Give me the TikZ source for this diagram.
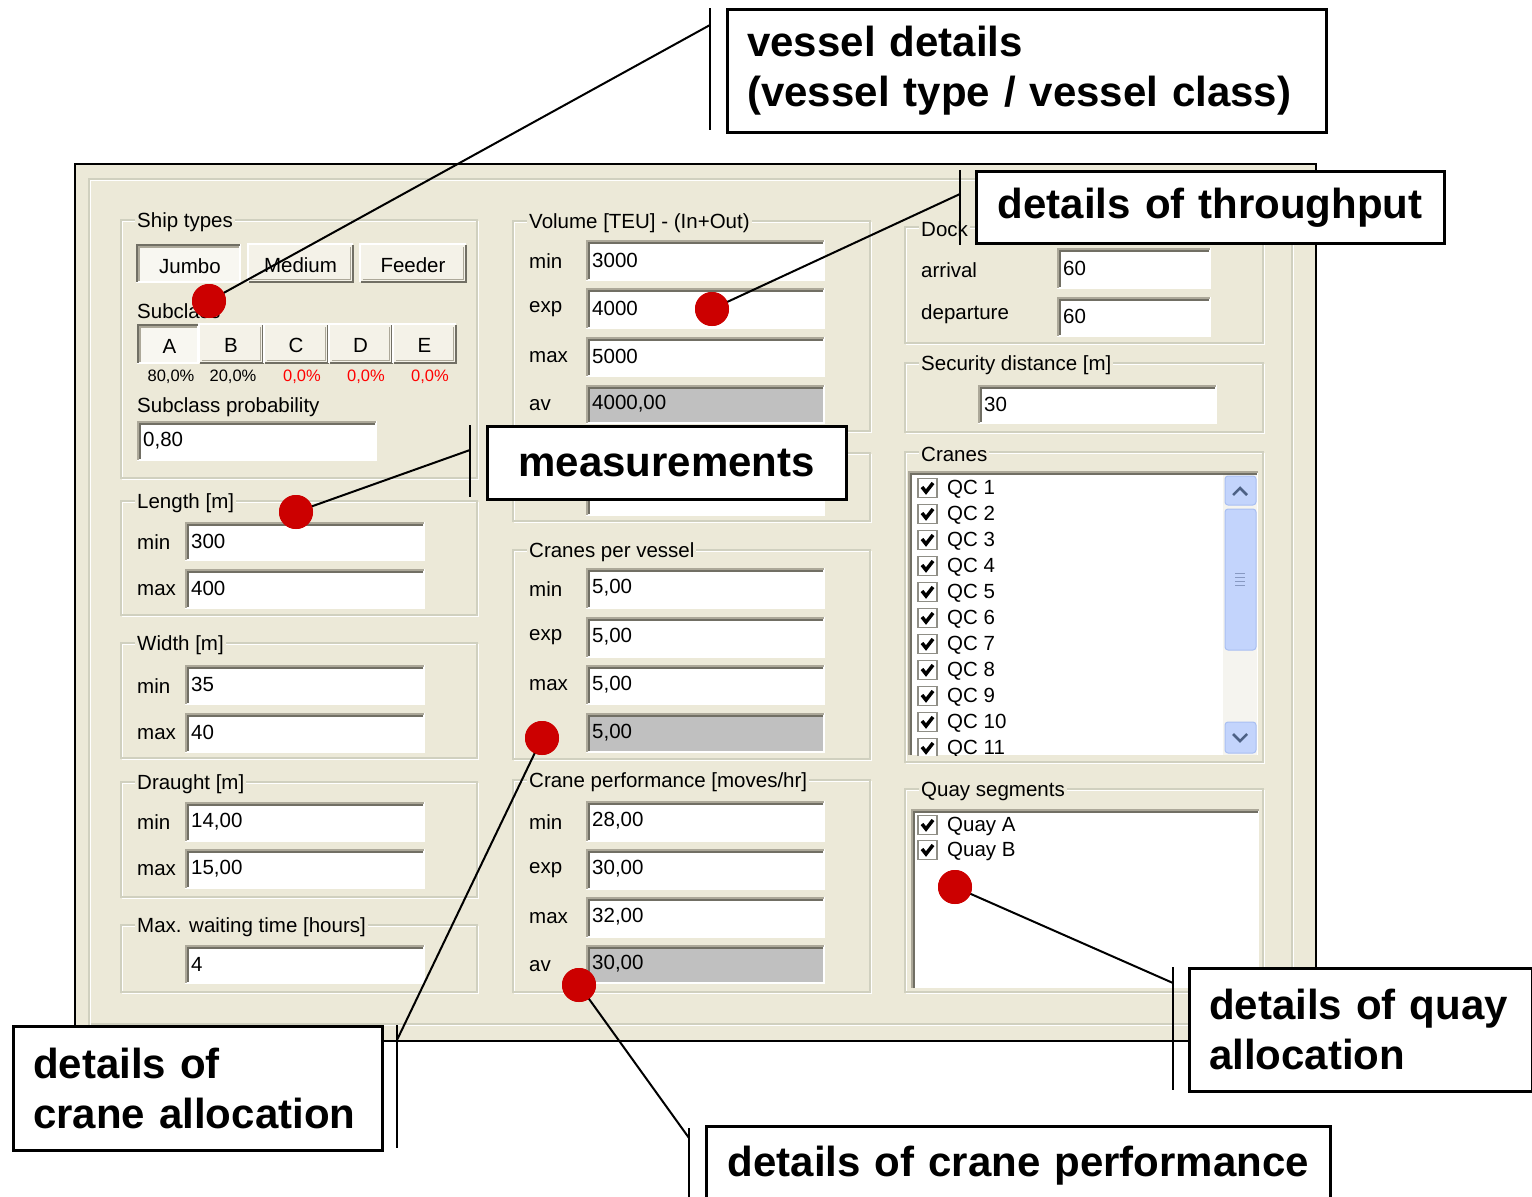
\documentclass[tikz,border=0pt]{standalone}
\usepackage{fontspec}
\setmainfont{Liberation Sans}
\definecolor{winbg}{HTML}{ECE9D8}
\definecolor{etchgray}{HTML}{D0D0BF}
\definecolor{flddark}{HTML}{716F64}
\definecolor{fldmid}{HTML}{ACA899}
\definecolor{fldgray}{HTML}{C0C0C0}
\definecolor{dotred}{HTML}{CC0000}
\definecolor{pctred}{HTML}{FF0000}
\definecolor{sbtrack}{HTML}{F5F4EF}
\definecolor{sbbtn}{HTML}{C3D4FC}
\definecolor{sbedge}{HTML}{A9BFF2}
\definecolor{sbarrow}{HTML}{4D6185}
\definecolor{chkedge}{HTML}{8F8E86}
\newcommand{\myui}{\fontsize{20.5}{24}\selectfont}
\newcommand{\mypct}{\fontsize{16.5}{20}\selectfont}
\newcommand{\mycall}{\fontsize{42}{50}\selectfont\bfseries}
\tikzset{
  etchw/.style={draw=white, line width=1.5pt},
  etchg/.style={draw=etchgray, line width=1.5pt},
  gblab/.style={anchor=west, fill=winbg, inner xsep=2pt, inner ysep=1pt, font=\myui},
  uilab/.style={anchor=west, inner sep=0pt, font=\myui},
  fldtxt/.style={anchor=west, inner sep=0pt, font=\myui},
  pct/.style={anchor=center, inner sep=0pt, font=\mypct},
  dot/.style={circle, fill=dotred, minimum size=34pt, inner sep=0pt},
  leader/.style={draw=black, line width=2pt},
  vbar/.style={draw=black, line width=2pt},
  callout/.style={draw=black, line width=2.5pt, fill=white, font=\mycall,
    align=left, anchor=north west, inner xsep=20pt, inner ysep=0pt},
}
% group box: name, x1, y1, x2, y2, label
\newcommand{\gbox}[6]{%
  \draw[etchw] ({#2+1.5},{#3+1.5}) rectangle ({#4+1.5},{#5+1.5});
  \draw[etchg] (#2,#3) rectangle (#4,#5);
  \node[gblab] (#1) at ({#2+14},{#3+2}) {#6};
}
% text field: name, x1, y1, x2, y2, fill, text
\newcommand{\fld}[7]{%
  \fill[#6] (#2,#3) rectangle (#4,#5);
  \draw[draw=white, line width=1.5pt] (#2,#5) -- (#4,#5) -- (#4,#3);
  \draw[draw=fldmid, line width=2pt] ({#2+1},#5) -- ({#2+1},{#3+1}) -- (#4,{#3+1});
  \draw[draw=flddark, line width=1.5pt] ({#2+2.8},{#5-1}) -- ({#2+2.8},{#3+2.8}) -- ({#4-1},{#3+2.8});
  \node[fldtxt] (#1) at ({#2+6},{(#3+#5)/2}) {#7};
}
% raised button: name, x1, y1, x2, y2, text
\newcommand{\rbtn}[6]{%
  \fill[winbg!60!white] (#2,#3) rectangle (#4,#5);
  \draw[draw=white, line width=1.5pt] (#2,#5) -- (#2,#3) -- (#4,#3);
  \draw[draw=flddark, line width=2pt] ({#2+1},#5) -- (#4,#5) -- (#4,{#3+1});
  \draw[draw=fldmid, line width=1.5pt] ({#2+2.5},{#5-2.5}) -- ({#4-2.5},{#5-2.5}) -- ({#4-2.5},{#3+2.5});
  \node[anchor=center, inner sep=0pt, font=\myui] (#1) at ({(#2+#4)/2},{(#3+#5)/2+2}) {#6};
}
% pressed button: name, x1, y1, x2, y2, text
\newcommand{\pbtn}[6]{%
  \fill[winbg!35!white] (#2,#3) rectangle (#4,#5);
  \draw[draw=white, line width=1.5pt] (#2,#5) -- (#4,#5) -- (#4,#3);
  \draw[draw=flddark, line width=2pt] ({#2+1},#5) -- ({#2+1},{#3+1}) -- (#4,{#3+1});
  \draw[draw=fldmid, line width=1.5pt] ({#2+3},{#5-1}) -- ({#2+3},{#3+3}) -- ({#4-1},{#3+3});
  \node[anchor=center, inner sep=0pt, font=\myui] (#1) at ({(#2+#4)/2+2},{(#3+#5)/2+3}) {#6};
}
% check box item: name, x, yc, label
\newcommand{\chk}[4]{%
  \draw[draw=chkedge, line width=1.2pt, fill=white] (#2,{#3-9.5}) rectangle ({#2+19},{#3+9.5});
  \draw[line width=3.5pt, line join=miter] ({#2+4},{#3-1}) -- ({#2+8},{#3+4}) -- ({#2+15},{#3-5});
  \node[uilab] (#1) at ({#2+29},{#3+1}) {#4};
}
\begin{document}
\begin{tikzpicture}[x=1pt,y=-1pt]
\useasboundingbox (0,0) rectangle (1532,1197);
\fill[white] (0,0) rectangle (1532,1197);
% window
\draw[fill=winbg, draw=black, line width=2.5pt] (75,164) rectangle (1316,1041);
\draw[etchg] (89,179) rectangle (1292,1024);
\draw[etchw] (90.5,180.5) rectangle (1293.5,1025.5);

% ---------- left column ----------
\gbox{gShip}{121}{220}{477}{478}{Ship types}
\pbtn{bJumbo}{136}{244}{240}{282}{Jumbo}
\rbtn{bMedium}{248}{244}{353}{282}{Medium}
\rbtn{bFeeder}{360}{244}{466}{282}{Feeder}
\node[uilab] (lSub) at (137,311) {Subclass};
\pbtn{bA}{137}{324}{198}{363}{A}
\rbtn{bB}{199}{324}{263}{363}{B}
\rbtn{bC}{264}{324}{328}{363}{C}
\rbtn{bD}{329}{324}{392}{363}{D}
\rbtn{bE}{393}{324}{456}{363}{E}
\node[pct] (pA) at (171,377) {80,0\%};
\node[pct] (pB) at (233,377) {20,0\%};
\node[pct, text=pctred] (pC) at (302,377) {0,0\%};
\node[pct, text=pctred] (pD) at (366,377) {0,0\%};
\node[pct, text=pctred] (pE) at (430,377) {0,0\%};
\node[uilab] (lSubP) at (137,407) {Subclass probability};
\fld{fSubP}{137}{421}{376}{460}{white}{0,80}

\gbox{gLen}{121}{501}{477}{615}{Length [m]}
\node[uilab] (lLenMin) at (137,542) {min};
\fld{fLenMin}{185}{522}{424}{560}{white}{300}
\node[uilab] (lLenMax) at (137,590) {max};
\fld{fLenMax}{185}{569}{424}{608}{white}{400}

\gbox{gWid}{121}{643}{477}{758}{Width [m]}
\node[uilab] (lWidMin) at (137,686) {min};
\fld{fWidMin}{185}{665}{424}{704}{white}{35}
\node[uilab] (lWidMax) at (137,734) {max};
\fld{fWidMax}{185}{713}{424}{752}{white}{40}

\gbox{gDra}{121}{782}{477}{897}{Draught [m]}
\node[uilab] (lDraMin) at (137,822) {min};
\fld{fDraMin}{185}{802}{424}{841}{white}{14,00}
\node[uilab] (lDraMax) at (137,870) {max};
\fld{fDraMax}{185}{849}{424}{888}{white}{15,00}

\gbox{gWait}{121}{925}{477}{992}{Max. waiting time [hours]}
\fld{fWait}{185}{945}{424}{983}{white}{4}

% ---------- middle column ----------
\gbox{gVol}{513}{221}{870}{431}{Volume [TEU] - (In+Out)}
\node[uilab] (lVolMin) at (529,261) {min};
\fld{fVolMin}{586}{240}{824}{280}{white}{3000}
\node[uilab] (lVolExp) at (529,309) {exp};
\fld{fVolExp}{586}{288}{824}{328}{white}{4000}
\node[uilab] (lVolMax) at (529,357) {max};
\fld{fVolMax}{586}{337}{824}{376}{white}{5000}
\node[uilab] (lVolAv) at (529,405) {av};
\fld{fVolAv}{586}{385}{824}{423}{fldgray}{4000,00}

\draw[etchw] (514.5,454.5) rectangle (871.5,522.5);
\draw[etchg] (513,453) rectangle (870,521);
\fld{fHid}{586}{477}{824}{515}{white}{}

\gbox{gCpv}{513}{550}{870}{759}{Cranes per vessel}
\node[uilab] (lCpvMin) at (529,589) {min};
\fld{fCpvMin}{586}{568}{824}{608}{white}{5,00}
\node[uilab] (lCpvExp) at (529,637) {exp};
\fld{fCpvExp}{586}{617}{824}{657}{white}{5,00}
\node[uilab] (lCpvMax) at (529,685) {max};
\fld{fCpvMax}{586}{665}{824}{704}{white}{5,00}
\fld{fCpvAv}{586}{713}{824}{752}{fldgray}{5,00}

\gbox{gPerf}{513}{780}{870}{992}{Crane performance [moves/hr]}
\node[uilab] (lPerfMin) at (529,822) {min};
\fld{fPerfMin}{586}{801}{824}{841}{white}{28,00}
\node[uilab] (lPerfExp) at (529,870) {exp};
\fld{fPerfExp}{586}{849}{824}{889}{white}{30,00}
\node[uilab] (lPerfMax) at (529,918) {max};
\fld{fPerfMax}{586}{897}{824}{937}{white}{32,00}
\node[uilab] (lPerfAv) at (529,966) {av};
\fld{fPerfAv}{586}{945}{824}{983}{fldgray}{30,00}

% ---------- right column ----------
\gbox{gDock}{905}{227}{1263}{343}{Dock}
\node[uilab] (lArr) at (921,270) {arrival};
\fld{fArr}{1057}{248}{1210}{288}{white}{60}
\node[uilab] (lDep) at (921,314) {departure};
\fld{fDep}{1057}{297}{1210}{336}{white}{60}

\gbox{gSec}{905}{363}{1263}{432}{Security distance [m]}
\fld{fSec}{978}{385}{1216}{423}{white}{30}

\gbox{gCranes}{905}{452}{1263}{762}{Cranes}
\fill[white] (908,471) rectangle (1258,755);
\draw[draw=fldmid, line width=2pt] (909,755) -- (909,472) -- (1258,472);
\draw[draw=flddark, line width=1.5pt] (911,755) -- (911,474) -- (1257,474);
\begin{scope}
  \clip (912,475) rectangle (1223,755);
  \chk{qc1}{918}{488}{QC 1}
  \chk{qc2}{918}{514}{QC 2}
  \chk{qc3}{918}{540}{QC 3}
  \chk{qc4}{918}{566}{QC 4}
  \chk{qc5}{918}{592}{QC 5}
  \chk{qc6}{918}{618}{QC 6}
  \chk{qc7}{918}{644}{QC 7}
  \chk{qc8}{918}{670}{QC 8}
  \chk{qc9}{918}{696}{QC 9}
  \chk{qc10}{918}{722}{QC 10}
  \chk{qc11}{918}{748}{QC 11}
\end{scope}
% scrollbar
\fill[sbtrack] (1223,475) rectangle (1257,755);
\draw[draw=sbedge, fill=sbbtn, rounded corners=3pt, line width=1pt] (1225,476) rectangle (1256,505);
\draw[draw=sbarrow, line width=2.5pt] (1233,495) -- (1240,488) -- (1247,495);
\draw[draw=sbedge, fill=sbbtn, rounded corners=3pt, line width=1pt] (1225,509) rectangle (1256,650);
\foreach \gy in {573,577,581,585} \draw[draw=sbedge!80!black, line width=0.8pt] (1235,\gy) -- (1245,\gy);
\draw[draw=sbedge, fill=sbbtn, rounded corners=3pt, line width=1pt] (1225,722) rectangle (1256,753);
\draw[draw=sbarrow, line width=2.5pt] (1233,734) -- (1240,741) -- (1247,734);

\gbox{gQuay}{905}{789}{1263}{992}{Quay segments}
\fill[white] (911,809) rectangle (1259,988);
\draw[draw=fldmid, line width=2pt] (912,988) -- (912,810) -- (1259,810);
\draw[draw=flddark, line width=1.5pt] (914,988) -- (914,812) -- (1258,812);
\chk{qa}{918}{825}{Quay A}
\chk{qb}{918}{850}{Quay B}

% ---------- callout bars and leaders ----------
\coordinate (b1t) at (710,8);   \coordinate (b1b) at (710,130);  \coordinate (e1) at (710,25);
\coordinate (b2t) at (960,170); \coordinate (b2b) at (960,245);  \coordinate (e2) at (960,194);
\coordinate (b3t) at (470,425); \coordinate (b3b) at (470,497);  \coordinate (e3) at (470,450);
\coordinate (b4t) at (397,1025);\coordinate (b4b) at (397,1148); \coordinate (e4) at (397,1040);
\coordinate (b5t) at (1173,967);\coordinate (b5b) at (1173,1090);\coordinate (e5) at (1173,983);
\coordinate (b6t) at (689,1128);\coordinate (b6b) at (689,1200);\coordinate (e6) at (689,1138);
\foreach \i in {1,...,6} \draw[vbar] (b\i t) -- (b\i b);

\node[dot] (d1) at (209,301) {};
\node[dot] (d2) at (712,309) {};
\node[dot] (d3) at (296,512) {};
\node[dot] (d4) at (542,738) {};
\node[dot] (d5) at (579,985) {};
\node[dot] (d6) at (955,887) {};
\draw[leader] (d1.center) -- (e1);
\draw[leader] (d2.center) -- (e2);
\draw[leader] (d3.center) -- (e3);
\draw[leader] (d4.center) -- (e4);
\draw[leader] (d5.center) -- (e6);
\draw[leader] (d6.center) -- (e5);
\foreach \d in {d1,d2,d3,d4,d5,d6} \fill[dotred] (\d) circle (17);

% ---------- callout boxes ----------
\node[callout, text width=559pt, minimum height=123pt] (c1) at (726,8)
  {vessel details\\(vessel type / vessel class)};
\node[callout, text width=428pt, minimum height=72pt, align=center] (c2) at (975,170)
  {details of throughput};
\node[callout, text width=319pt, minimum height=73pt, align=center] (c3) at (486,425)
  {measurements};
\node[callout, text width=329pt, minimum height=124pt] (c4) at (12,1025)
  {details of\\crane allocation};
\node[callout, text width=303pt, minimum height=123pt] (c5) at (1188,967)
  {details of quay\\allocation};
\node[callout, text width=584pt, minimum height=78pt, align=center] (c6) at (705,1125)
  {details of crane performance};
\end{tikzpicture}
\end{document}
